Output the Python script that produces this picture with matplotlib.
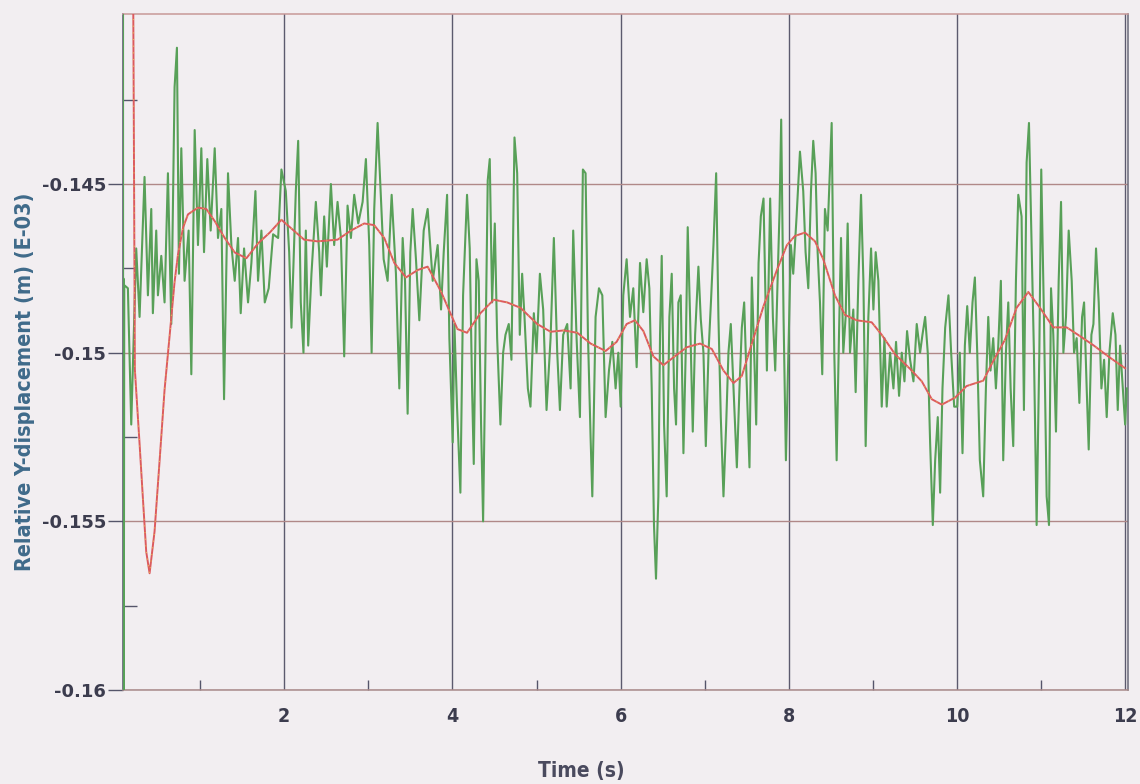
import matplotlib
matplotlib.use("Agg")
import matplotlib.pyplot as plt
from matplotlib.ticker import FixedLocator

plt.rcParams['axes.unicode_minus'] = False

# ---------------- data ----------------
xtick_vals = [2, 4, 6, 8, 10, 12]
xtick_labels = ["2", "4", "6", "8", "10", "12"]
xminor_vals = [1, 3, 5, 7, 9, 11]
ytick_vals = [-0.145, -0.15, -0.155, -0.16]
ytick_labels = ["-0.145", "-0.15", "-0.155", "-0.16"]
yminor_vals = [-0.1425, -0.1475, -0.1525, -0.1575]

# green (raw response), read segment by segment
g1_t = [0.085, 0.087, 0.090, 0.094, 0.100, 0.143, 0.183, 0.242, 0.282, 0.341, 0.381, 0.421, 0.440, 0.480, 0.500,
        0.540, 0.579, 0.619, 0.659, 0.698, 0.726, 0.750, 0.778, 0.817, 0.865, 0.897, 0.937, 0.976, 1.016, 1.048,
        1.087, 1.127, 1.175, 1.214, 1.254, 1.286, 1.333, 1.373, 1.413, 1.452, 1.484, 1.524, 1.571, 1.611, 1.659,
        1.690, 1.730, 1.770, 1.817, 1.869, 1.929, 1.968]
g1_v = [-0.1380, -0.1615, -0.1478, -0.1612, -0.1480, -0.14809, -0.15213, -0.14691, -0.14894, -0.14479,
        -0.1483, -0.14574, -0.14883, -0.14638, -0.1483, -0.14713, -0.14851, -0.14468, -0.14915, -0.14213,
        -0.14096, -0.14766, -0.14394, -0.14787, -0.14638, -0.15064, -0.1434, -0.14681, -0.14394, -0.14702,
        -0.14426, -0.14638, -0.14394, -0.1466, -0.14574, -0.15138, -0.14468, -0.14681, -0.14787, -0.1466,
        -0.14883, -0.14691, -0.14851, -0.14734, -0.14521, -0.14787, -0.14638, -0.14851, -0.14809, -0.14649,
        -0.1466, -0.14457]

g2_t = [2.020, 2.060, 2.087, 2.139, 2.167, 2.198, 2.230, 2.258, 2.286, 2.325, 2.377, 2.417, 2.437, 2.476, 2.508,
        2.556, 2.595, 2.635, 2.675, 2.714, 2.754, 2.794, 2.833, 2.881, 2.933, 2.972, 3.012, 3.040, 3.071, 3.111,
        3.151, 3.183, 3.230, 3.278, 3.329, 3.369, 3.409, 3.437, 3.468, 3.500, 3.528, 3.567, 3.607, 3.659, 3.706,
        3.766, 3.825, 3.865, 3.897, 3.937, 3.964, 4.004]
g2_v = [-0.14521, -0.14702, -0.14926, -0.14521, -0.14372, -0.14851, -0.15, -0.14638, -0.14979, -0.14766,
        -0.14553, -0.14702, -0.1483, -0.14596, -0.14745, -0.145, -0.14681, -0.14553, -0.1466, -0.15011,
        -0.14564, -0.1466, -0.14532, -0.14617, -0.14553, -0.14426, -0.14681, -0.15, -0.14574, -0.14319,
        -0.14543, -0.14723, -0.14787, -0.14532, -0.14766, -0.15106, -0.1466, -0.14787, -0.15181, -0.14702,
        -0.14574, -0.14723, -0.14904, -0.14638, -0.14574, -0.14787, -0.14681, -0.14872, -0.14702, -0.14532,
        -0.14957, -0.15266]

g3_t = [4.024, 4.055, 4.095, 4.127, 4.174, 4.206, 4.234, 4.254, 4.286, 4.313, 4.341, 4.365, 4.393, 4.420, 4.444,
        4.472, 4.504, 4.532, 4.571, 4.603, 4.631, 4.670, 4.702, 4.738, 4.770, 4.801, 4.829, 4.857, 4.897, 4.928,
        4.968, 5.000, 5.040, 5.079, 5.119, 5.167, 5.206, 5.246, 5.278, 5.317, 5.365, 5.405, 5.436, 5.476, 5.516,
        5.551, 5.583, 5.611, 5.643, 5.663, 5.702, 5.742, 5.782, 5.821, 5.861, 5.901, 5.940]
g3_v = [-0.14915, -0.1516, -0.15415, -0.1483, -0.14532, -0.14691, -0.15106, -0.1533, -0.14723, -0.14787,
        -0.15213, -0.155, -0.15, -0.14489, -0.14426, -0.14851, -0.14617, -0.14957, -0.15213, -0.15,
        -0.14947, -0.14915, -0.15021, -0.14362, -0.14468, -0.14947, -0.14766, -0.14894, -0.15106, -0.1516,
        -0.14883, -0.15, -0.14766, -0.14872, -0.1517, -0.14957, -0.1466, -0.15, -0.1517, -0.14947,
        -0.14915, -0.15106, -0.14638, -0.14957, -0.15191, -0.14457, -0.14468, -0.14947, -0.15255, -0.15426,
        -0.14894, -0.14809, -0.1483, -0.15191, -0.15053, -0.14968, -0.15106]

g4_t = [5.972, 6.000, 6.031, 6.071, 6.111, 6.150, 6.190, 6.230, 6.269, 6.309, 6.341, 6.369, 6.396, 6.420, 6.448,
        6.468, 6.488, 6.516, 6.547, 6.579, 6.607, 6.635, 6.658, 6.686, 6.714, 6.746, 6.773, 6.797, 6.825, 6.857,
        6.885, 6.924, 6.952, 6.984, 7.012, 7.044, 7.075, 7.103, 7.135, 7.162, 7.190, 7.222, 7.254, 7.281, 7.309,
        7.341, 7.381, 7.412, 7.440, 7.468, 7.500, 7.531, 7.559, 7.587, 7.611, 7.639, 7.666, 7.698, 7.738, 7.777,
        7.809, 7.837, 7.865, 7.889, 7.908, 7.936, 7.964]
g4_v = [-0.15, -0.1516, -0.1483, -0.14723, -0.14894, -0.14809, -0.15043, -0.14734, -0.1488, -0.14723,
        -0.14809, -0.15106, -0.15511, -0.1567, -0.15426, -0.14947, -0.14713, -0.15213, -0.15426, -0.14894,
        -0.14766, -0.15106, -0.15213, -0.14851, -0.1483, -0.15298, -0.15, -0.14628, -0.14894, -0.15234,
        -0.14947, -0.14745, -0.1490, -0.15, -0.15277, -0.15, -0.1484, -0.14681, -0.14468, -0.14894,
        -0.15191, -0.15426, -0.15213, -0.15, -0.14915, -0.15106, -0.1534, -0.15106, -0.14926, -0.14851,
        -0.15106, -0.1534, -0.14777, -0.15, -0.15213, -0.14734, -0.14596, -0.14543, -0.15053, -0.14543,
        -0.14894, -0.15053, -0.14787, -0.14574, -0.14309, -0.14894, -0.15319]

g5_t = [8.023, 8.051, 8.091, 8.131, 8.170, 8.198, 8.230, 8.262, 8.289, 8.317, 8.341, 8.369, 8.396, 8.428, 8.460,
        8.488, 8.508, 8.539, 8.567, 8.595, 8.619, 8.646, 8.674, 8.698, 8.726, 8.765, 8.793, 8.825, 8.857, 8.885,
        8.912, 8.944, 8.976, 9.004, 9.031, 9.063, 9.103, 9.135, 9.162, 9.202, 9.242, 9.273, 9.309, 9.341, 9.373,
        9.404, 9.440, 9.480, 9.519, 9.559, 9.587, 9.619, 9.650, 9.678, 9.710, 9.738, 9.769, 9.797, 9.825, 9.857,
        9.896, 9.928, 9.964]
g5_v = [-0.14681, -0.14766, -0.14596, -0.14404, -0.14521, -0.14702, -0.14809, -0.14521, -0.14372, -0.14468,
        -0.14702, -0.14851, -0.15064, -0.14574, -0.14638, -0.14447, -0.14319, -0.15, -0.15319, -0.14947,
        -0.1466, -0.15, -0.14894, -0.14617, -0.15, -0.14872, -0.15117, -0.14787, -0.14532, -0.14787,
        -0.15277, -0.14894, -0.14691, -0.14872, -0.14702, -0.14787, -0.1516, -0.14957, -0.1516, -0.15,
        -0.15106, -0.14968, -0.15128, -0.15, -0.15085, -0.14936, -0.15021, -0.15085, -0.14915, -0.15,
        -0.14947, -0.14894, -0.15, -0.15266, -0.15511, -0.15319, -0.15191, -0.15415, -0.15106, -0.14926,
        -0.1483, -0.15, -0.1516]

g6_t = [10.000, 10.031, 10.063, 10.091, 10.119, 10.150, 10.182, 10.210, 10.238, 10.269, 10.309, 10.341, 10.369,
        10.396, 10.428, 10.460, 10.488, 10.519, 10.547, 10.579, 10.607, 10.635, 10.666, 10.698, 10.726, 10.765,
        10.793, 10.825, 10.853, 10.885, 10.912, 10.944, 10.976, 10.999, 11.031, 11.063, 11.091, 11.115, 11.142,
        11.174, 11.206, 11.234, 11.262, 11.293, 11.325, 11.361, 11.389, 11.420, 11.452, 11.484, 11.508, 11.539,
        11.563, 11.595, 11.619, 11.650, 11.682, 11.714, 11.746, 11.777, 11.809, 11.849, 11.881, 11.908, 11.936,
        11.968, 11.996, 12.015]
g6_v = [-0.1516, -0.15, -0.15298, -0.14979, -0.14862, -0.15, -0.14851, -0.14777, -0.15, -0.15319,
        -0.15426, -0.15106, -0.14894, -0.15053, -0.14957, -0.15106, -0.14979, -0.14787, -0.15319, -0.15,
        -0.14851, -0.15106, -0.15277, -0.14787, -0.14532, -0.14596, -0.1517, -0.14436, -0.14319, -0.14681,
        -0.15, -0.15511, -0.15, -0.14457, -0.14894, -0.15426, -0.15511, -0.14809, -0.14947, -0.15234,
        -0.14787, -0.14553, -0.15, -0.14894, -0.14638, -0.14787, -0.15, -0.14957, -0.15149, -0.14894,
        -0.14851, -0.15106, -0.15287, -0.14947, -0.14915, -0.14691, -0.14851, -0.15106, -0.15021, -0.15191,
        -0.15, -0.14883, -0.14947, -0.1517, -0.14979, -0.15106, -0.15213, -0.15106]

# red (smoothed response)
red_t = [0.200, 0.215, 0.226, 0.282, 0.321, 0.361, 0.401, 0.460, 0.520, 0.579, 0.639, 0.698, 0.738, 0.798, 0.857,
         0.976, 1.075, 1.175, 1.294, 1.413, 1.552, 1.690, 1.829, 1.968, 2.238, 2.397, 2.635, 2.794, 2.952, 3.071,
         3.190, 3.310, 3.448, 3.587, 3.706, 3.865, 3.976, 4.060, 4.174, 4.333, 4.492, 4.651, 4.809, 5.008, 5.167,
         5.325, 5.484, 5.643, 5.821, 5.952, 6.071, 6.170, 6.270, 6.389, 6.508, 6.647, 6.785, 6.944, 7.083, 7.222,
         7.341, 7.440, 7.579, 7.698, 7.857, 7.976, 8.071, 8.190, 8.310, 8.408, 8.547, 8.666, 8.805, 8.984, 9.103,
         9.262, 9.440, 9.579, 9.698, 9.817, 9.976, 10.111, 10.309, 10.428, 10.567, 10.706, 10.845, 10.984, 11.142,
         11.301, 11.460, 11.619, 11.817, 11.996]
red_v = [-0.1360, -0.1440, -0.1505, -0.1527, -0.1543, -0.1559, -0.15654, -0.1553, -0.1532, -0.1511, -0.1495,
         -0.1479, -0.1471, -0.1463, -0.1459, -0.1457, -0.14574, -0.1461, -0.1466, -0.14703, -0.1472, -0.14676,
         -0.14644, -0.14606, -0.14665, -0.1467, -0.14665, -0.14638, -0.14617, -0.14622, -0.1466, -0.14734,
         -0.14777, -0.14755, -0.14745, -0.14819, -0.14883, -0.1493, -0.14941, -0.14883, -0.14843, -0.14851,
         -0.14867, -0.14915, -0.14938, -0.14934, -0.14941, -0.14973, -0.14995, -0.14968, -0.14915, -0.14904,
         -0.14936, -0.15011, -0.15037, -0.1501, -0.14984, -0.14973, -0.14989, -0.15053, -0.1509, -0.15069,
         -0.14957, -0.14862, -0.14755, -0.14681, -0.14654, -0.14644, -0.1467, -0.14723, -0.1483, -0.14888,
         -0.14904, -0.1491, -0.14947, -0.15005, -0.15048, -0.15085, -0.15138, -0.15154, -0.15133, -0.15099,
         -0.15083, -0.15025, -0.14962, -0.14867, -0.1482, -0.14867, -0.14925, -0.14925, -0.14951, -0.14978,
         -0.15015, -0.15046]

green_t = g1_t + g2_t + g3_t + g4_t + g5_t + g6_t
green_v = g1_v + g2_v + g3_v + g4_v + g5_v + g6_v

# ---------------- figure ----------------
BG = '#f2eef1'
fig = plt.figure(figsize=(11.4, 7.84), dpi=100, facecolor=BG)
ax = fig.add_axes([123 / 1140, 1 - 690 / 784, (1128 - 123) / 1140, (690 - 14) / 784])
ax.set_facecolor(BG)

ax.plot(green_t, green_v, color='#58a058', lw=1.5, zorder=3)
ax.plot(red_t, red_v, color='#dc5a5e', lw=1.4, zorder=4)
ax.plot(red_t, red_v, color='#e8d050', lw=0.8, zorder=5, dashes=(1, 5), alpha=0.8)

ax.set_xlim(0.085, 12.03)
ax.set_ylim(-0.16, -0.13996)

FAM = ['Liberation Sans Narrow', 'DejaVu Sans']
lab_font = dict(family=FAM, weight='bold', stretch='condensed')

ax.set_xticks(xtick_vals, labels=xtick_labels)
ax.set_yticks(ytick_vals, labels=ytick_labels)
ax.xaxis.set_minor_locator(FixedLocator(xminor_vals))
ax.yaxis.set_minor_locator(FixedLocator(yminor_vals))

for lbl in ax.get_xticklabels():
    lbl.set_fontfamily(FAM)
    lbl.set_fontweight('bold')
    lbl.set_fontstretch('condensed')
    lbl.set_fontsize(14)
    lbl.set_color('#3c3c4e')
for lbl in ax.get_yticklabels():
    lbl.set_fontfamily(['DejaVu Sans'])
    lbl.set_fontweight('bold')
    lbl.set_fontsize(13)
    lbl.set_color('#3c3c4e')

ax.tick_params(axis='x', which='major', length=0, pad=12)
ax.tick_params(axis='x', which='minor', direction='in', length=7, width=1, color='#55556a')
ax.tick_params(axis='y', which='major', direction='out', length=11, width=1, color='#55556a', pad=1)
ax.tick_params(axis='y', which='minor', direction='in', length=10, width=1, color='#55556a')

ax.xaxis.grid(True, which='major', color='#5c5a6e', lw=1.0)
ax.yaxis.grid(True, which='major', color='#b08888', lw=1.0)
ax.set_axisbelow(True)

ax.spines['left'].set_color('#55556a')
ax.spines['right'].set_color('#6a6a7a')
ax.spines['top'].set_color('#c89898')
ax.spines['bottom'].set_color('#a88a8a')
for s in ax.spines.values():
    s.set_linewidth(1.1)

fig.text(581 / 1140, 1 - 771 / 784, "Time (s)", ha='center', va='center',
         fontsize=15, color='#4a4a5e', **lab_font)
fig.text(25 / 1140, 1 - 382 / 784, "Relative Y-displacement (m) (E-03)", rotation=90,
         ha='center', va='center', fontsize=15.5, color='#3f6a8a', **lab_font)

fig.savefig('out.png', dpi=100, facecolor=BG)
